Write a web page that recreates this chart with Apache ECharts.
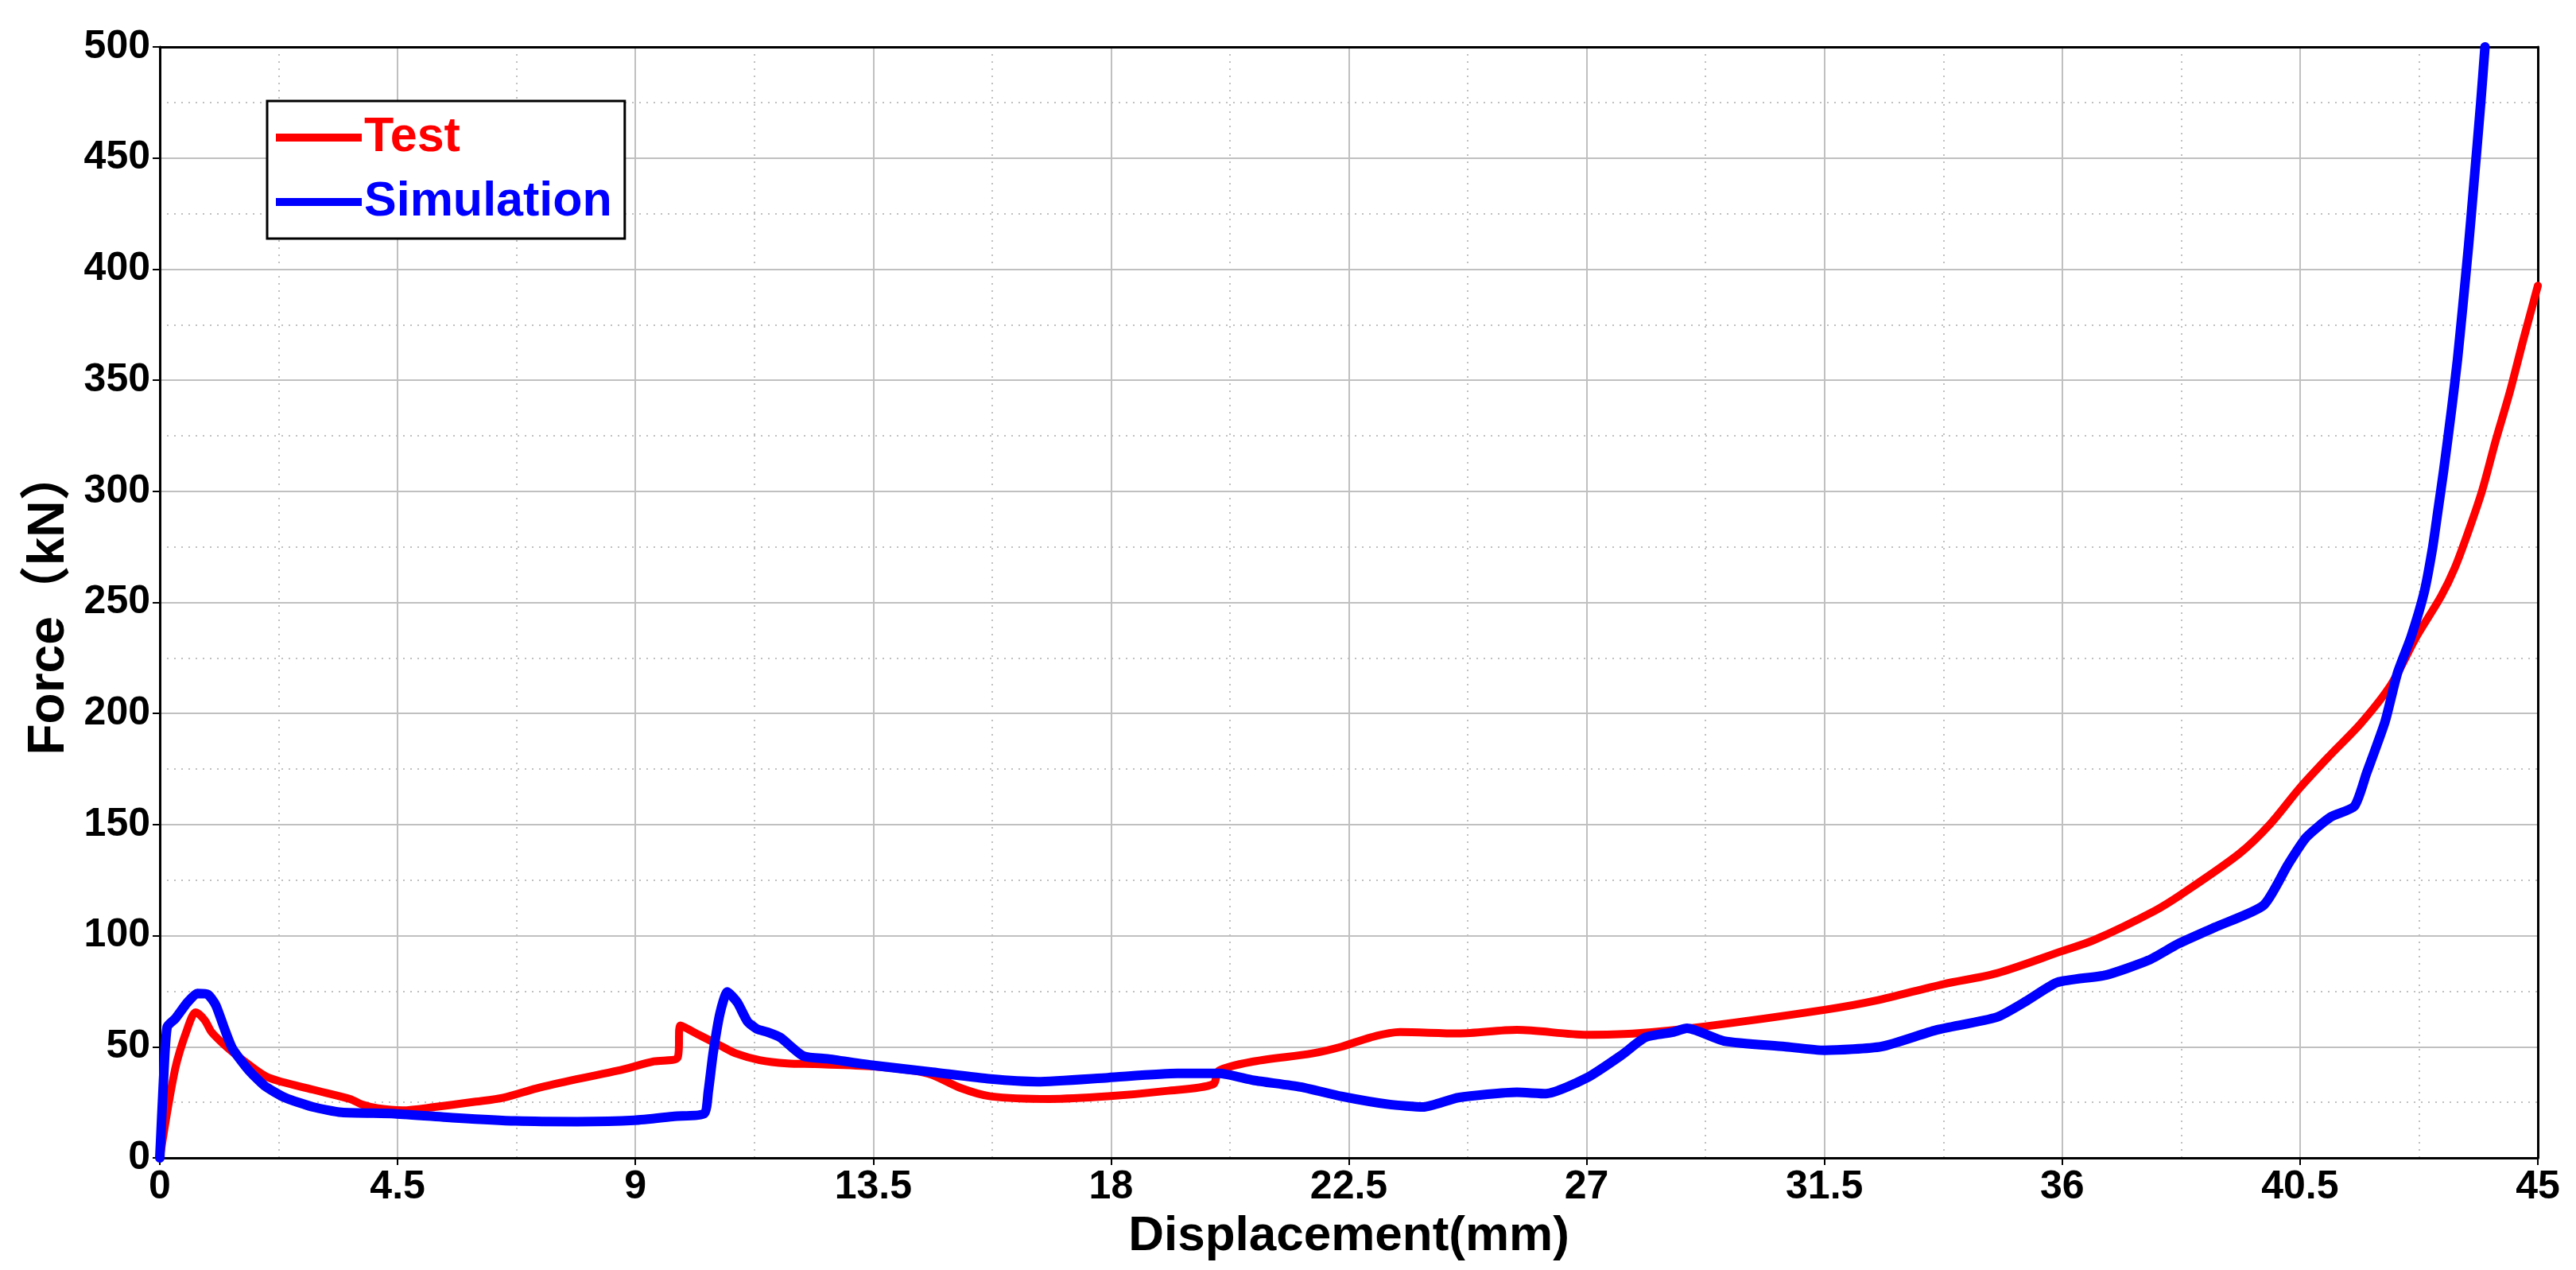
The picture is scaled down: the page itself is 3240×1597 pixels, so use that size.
<!DOCTYPE html>
<html>
<head>
<meta charset="utf-8">
<script src="https://cdn.jsdelivr.net/npm/echarts@6/dist/echarts.min.js"></script>
<style>
html,body{margin:0;padding:0;background:#fff;}
#chart{width:3240px;height:1597px;}
</style>
</head>
<body>
<div id="chart"></div>
<script>
// ---- data ----
const seriesNames = ['Test', 'Simulation'];
const xTicks = [0, 4.5, 9, 13.5, 18, 22.5, 27, 31.5, 36, 40.5, 45];
const yTicks = [0, 50, 100, 150, 200, 250, 300, 350, 400, 450, 500];

const testX = [0, 0.29, 0.52, 0.68, 0.85, 0.98, 1.29, 1.67, 2.06, 2.9, 3.6, 3.82, 4.13, 4.59, 5.2, 5.98, 6.5, 7.13, 7.9, 8.66, 9.35, 9.8, 9.85, 10.2, 10.6, 10.9, 11.35, 11.87, 12.4, 13.51, 14.29, 14.62, 15.17, 15.72, 16.83, 17.94, 19.04, 19.93, 20.04, 20.7, 21.81, 22.36, 22.91, 23.47, 24.57, 25.68, 27.0, 27.87, 29.25, 31.5, 32.46, 33.75, 34.76, 36.0, 36.6, 37.75, 38.26, 39.35, 39.93, 40.5, 41.08, 41.65, 42.22, 42.7, 43.17, 43.43, 43.69, 43.95, 44.2, 44.47, 44.73, 45.0];
const testY = [0, 40, 58, 65.5, 62, 56.6, 49.4, 42.2, 36.1, 30.7, 26.5, 24.1, 22.3, 21.4, 22.9, 25.3, 27.1, 31.3, 35.5, 39.2, 43.4, 45.2, 59.6, 55.4, 50.6, 47, 44, 42.5, 42.2, 41.2, 39.2, 37.3, 31.3, 27.7, 26.5, 27.7, 30.1, 33.1, 39.2, 43.4, 47, 50, 54.2, 56.6, 56, 57.6, 55.4, 55.9, 59.2, 66.6, 70.7, 78.2, 83.1, 93.1, 98, 111.2, 118.7, 136.9, 150.1, 166.6, 181.5, 195.5, 212.9, 234.4, 252.8, 265.6, 282.2, 300.6, 322.6, 344.7, 368.6, 392.5];

const simX = [0, 0.07, 0.14, 0.29, 0.52, 0.71, 0.91, 1.06, 1.21, 1.37, 1.67, 1.98, 2.37, 2.9, 3.44, 4.44, 5.6, 6.74, 7.9, 8.98, 9.74, 10.3, 10.38, 10.47, 10.6, 10.74, 10.93, 11.12, 11.3, 11.5, 11.74, 12.18, 12.63, 13.51, 14.62, 15.72, 16.61, 17.94, 19.26, 20.04, 20.7, 21.59, 22.36, 23.25, 23.91, 24.57, 25.68, 26.23, 27.01, 27.67, 28.11, 28.64, 28.9, 29.6, 30.74, 31.5, 32.58, 33.61, 34.76, 35.33, 35.91, 36.83, 37.63, 38.2, 38.89, 39.81, 40.27, 40.62, 41.08, 41.53, 41.76, 42.11, 42.34, 42.6, 42.85, 43.01, 43.11, 43.22, 43.37, 43.48, 43.58, 43.69, 43.79, 43.92, 44.0];
const simY = [0, 35, 59, 62.6, 69.9, 74, 73.5, 68.7, 59, 49.4, 39.8, 32.5, 27.1, 22.9, 20.5, 19.9, 18, 16.6, 16.3, 16.9, 18.7, 19.9, 30, 47, 65, 74.7, 69.9, 61.4, 58, 56.6, 54.2, 45.8, 44.6, 41.6, 38.6, 35.5, 34.3, 36.1, 38, 38, 34.9, 31.9, 27.7, 24.1, 22.9, 27.1, 29.5, 28.9, 36.1, 46.4, 54.2, 56.6, 58.3, 52.6, 50.1, 48.4, 50.1, 57.5, 63.3, 70.7, 79, 82.3, 88.9, 96.4, 103.8, 113.7, 131.9, 144.3, 153.4, 158.3, 173.2, 196.4, 217.9, 234.4, 254.6, 274.8, 291.4, 309.7, 337.3, 359.4, 383.3, 410.8, 438.4, 475, 500];

const testData = testX.map((x, i) => [x, testY[i]]);
const simData = simX.map((x, i) => [x, simY[i]]);

const FONT = '"Liberation Sans", Arial, "Noto Sans CJK SC", sans-serif';
const gridLine = { show: true, showMinLine: false, showMaxLine: false, lineStyle: { color: '#c0c0c0', width: 2 } };
const minorLine = { show: true, lineStyle: { color: '#c0c0c0', width: 2, type: [2, 7] } };
const frameAxis = {
  axisLine: { show: true, onZero: false, lineStyle: { color: '#000', width: 3 } },
  axisTick: { show: false }, axisLabel: { show: false }, splitLine: { show: false }
};

const chart = echarts.init(document.getElementById('chart'));
chart.setOption({
  animation: false,
  backgroundColor: '#ffffff',
  grid: { left: 201, right: 48, top: 59, bottom: 141 },
  legend: {
    orient: 'vertical',
    left: 336, top: 127,
    data: seriesNames,
    icon: 'rect',
    itemWidth: 108, itemHeight: 10, itemGap: 11,
    padding: [11, 16, 11, 11],
    borderColor: '#000', borderWidth: 3,
    backgroundColor: '#fff',
    textStyle: { fontFamily: FONT, fontWeight: 'bold', fontSize: 61, lineHeight: 70, color: 'inherit', padding: [0, 0, 0, -2] }
  },
  xAxis: [{
    type: 'value', min: xTicks[0], max: xTicks[xTicks.length - 1], interval: xTicks[1] - xTicks[0],
    name: 'Displacement(mm)', nameLocation: 'middle', nameGap: 68,
    nameTextStyle: { fontFamily: FONT, fontWeight: 'bold', fontSize: 62, color: '#000' },
    axisLine: { show: true, onZero: false, lineStyle: { color: '#000', width: 3 } },
    axisTick: { show: true, inside: false, length: 9, lineStyle: { color: '#000', width: 2 } },
    axisLabel: { fontFamily: FONT, fontWeight: 'bold', fontSize: 50, color: '#000', margin: 12, showMinLabel: true, showMaxLabel: true },
    splitLine: gridLine,
    minorTick: { show: false, splitNumber: 2 },
    minorSplitLine: minorLine
  }, Object.assign({ type: 'value', position: 'top', min: xTicks[0], max: xTicks[xTicks.length - 1] }, frameAxis)],
  yAxis: [{
    type: 'value', min: yTicks[0], max: yTicks[yTicks.length - 1], interval: yTicks[1] - yTicks[0],
    name: 'Force（kN）', nameLocation: 'middle', nameGap: 94,
    nameTextStyle: { fontFamily: FONT, fontWeight: 'bold', fontSize: 64, color: '#000' },
    axisLine: { show: true, onZero: false, lineStyle: { color: '#000', width: 3 } },
    axisTick: { show: true, inside: false, length: 9, lineStyle: { color: '#000', width: 2 } },
    axisLabel: { fontFamily: FONT, fontWeight: 'bold', fontSize: 50, color: '#000', margin: 12, showMinLabel: true, showMaxLabel: true },
    splitLine: gridLine,
    minorTick: { show: false, splitNumber: 2 },
    minorSplitLine: minorLine
  }, Object.assign({ type: 'value', position: 'right', min: yTicks[0], max: yTicks[yTicks.length - 1] }, frameAxis)],
  series: [
    {
      name: seriesNames[0], type: 'line', data: testData, xAxisIndex: 0, yAxisIndex: 0,
      showSymbol: false, symbol: 'none', clip: true, smooth: 0.3,
      lineStyle: { color: '#ff0000', width: 10, join: 'round', cap: 'round' },
      itemStyle: { color: '#ff0000' }, z: 3
    },
    {
      name: seriesNames[1], type: 'line', data: simData, xAxisIndex: 0, yAxisIndex: 0,
      showSymbol: false, symbol: 'none', clip: true, smooth: 0.2,
      lineStyle: { color: '#0000ff', width: 12, join: 'round', cap: 'round' },
      itemStyle: { color: '#0000ff' }, z: 4
    }
  ]
});
</script>
</body>
</html>
